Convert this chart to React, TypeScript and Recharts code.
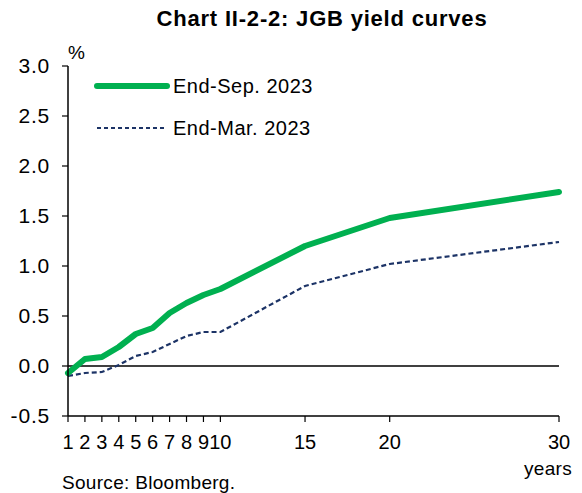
import React from 'react';
import { LineChart, Line, XAxis, YAxis, ReferenceLine, Legend } from 'recharts';

const maturities = [1, 2, 3, 4, 5, 6, 7, 8, 9, 10, 15, 20, 30];
const endSep2023 = [-0.07, 0.07, 0.09, 0.19, 0.32, 0.38, 0.53, 0.63, 0.71, 0.77, 1.2, 1.48, 1.74];
const endMar2023 = [-0.1, -0.07, -0.06, 0.01, 0.1, 0.14, 0.22, 0.3, 0.34, 0.34, 0.8, 1.02, 1.24];
const xTicks = [1, 2, 3, 4, 5, 6, 7, 8, 9, 10, 15, 20, 30];
const yTicks = [-0.5, 0, 0.5, 1, 1.5, 2, 2.5, 3];

const FONT = '"Liberation Sans", Arial, sans-serif';
const GREEN = '#00B050';
const NAVY = '#1C3366';

const data = maturities.map((m, i) => ({ year: m, sep: endSep2023[i], mar: endMar2023[i] }));

const legendItems = [
  { key: 'sep', name: 'End-Sep. 2023', color: GREEN, width: 6, dash: undefined },
  { key: 'mar', name: 'End-Mar. 2023', color: NAVY, width: 1.8, dash: '4 3' },
];

const renderLegend = () => (
  <div style={{ fontFamily: FONT, fontSize: 20, letterSpacing: 0.5, color: '#000' }}>
    {legendItems.map((it, i) => (
      <div key={it.key} style={{ display: 'flex', alignItems: 'center', height: 28, marginBottom: i === 0 ? 14 : 0 }}>
        <svg width={76} height={12} style={{ marginRight: 3 }}>
          <line
            x1={3}
            x2={73}
            y1={6}
            y2={6}
            stroke={it.color}
            strokeWidth={it.width}
            strokeDasharray={it.dash}
            strokeLinecap={it.dash ? 'butt' : 'round'}
          />
        </svg>
        <span>{it.name}</span>
      </div>
    ))}
  </div>
);

export default function App() {
  return (
    <div style={{ position: 'absolute', left: 0, top: 0, width: 582, height: 493, background: '#fff', fontFamily: FONT }}>
      <div style={{ position: 'absolute', left: 0, width: 582, top: 6, textAlign: 'center', paddingLeft: 62, boxSizing: 'border-box', fontWeight: 'bold', fontSize: 22, letterSpacing: 0.8 }}>
        Chart II-2-2: JGB yield curves
      </div>
      <div style={{ position: 'absolute', left: 68, top: 42, fontSize: 19 }}>%</div>
      <LineChart width={582} height={493} data={data} margin={{ top: 66, right: 23, bottom: 50, left: 0 }}>
        <XAxis
          dataKey="year"
          type="number"
          domain={[1, 30]}
          ticks={xTicks}
          interval={0}
          height={27}
          axisLine={{ stroke: '#000', strokeWidth: 1.5 }}
          tickLine={{ stroke: '#000', strokeWidth: 1.2 }}
          tickSize={6}
          tickMargin={13}
          tick={{ fill: '#000', fontSize: 20, fontFamily: FONT }}
        />
        <YAxis
          type="number"
          domain={[-0.5, 3]}
          ticks={yTicks}
          width={68}
          interval={0}
          axisLine={{ stroke: '#000', strokeWidth: 1.5 }}
          tickLine={{ stroke: '#000', strokeWidth: 1.2 }}
          tickSize={6}
          tickMargin={12}
          tickFormatter={(v: number) => v.toFixed(1)}
          tick={{ fill: '#000', fontSize: 21, fontFamily: FONT, letterSpacing: 0.8 }}
        />
        <ReferenceLine y={0} stroke="#000" strokeWidth={1.5} />
        <Legend
          layout="vertical"
          align="center"
          verticalAlign="middle"
          content={renderLegend}
          wrapperStyle={{ left: 94, top: 72, width: 260 }}
        />
        <Line
          type="linear"
          dataKey="mar"
          name="End-Mar. 2023"
          stroke={NAVY}
          strokeWidth={2.2}
          strokeDasharray="5 3"
          dot={false}
          isAnimationActive={false}
        />
        <Line
          type="linear"
          dataKey="sep"
          name="End-Sep. 2023"
          stroke={GREEN}
          strokeWidth={6}
          strokeLinecap="round"
          strokeLinejoin="round"
          dot={false}
          isAnimationActive={false}
        />
      </LineChart>
      <div style={{ position: 'absolute', left: 524, top: 458, fontSize: 19, letterSpacing: 0.3 }}>years</div>
      <div style={{ position: 'absolute', left: 62, top: 472, fontSize: 19, letterSpacing: 0.3 }}>Source: Bloomberg.</div>
    </div>
  );
}
